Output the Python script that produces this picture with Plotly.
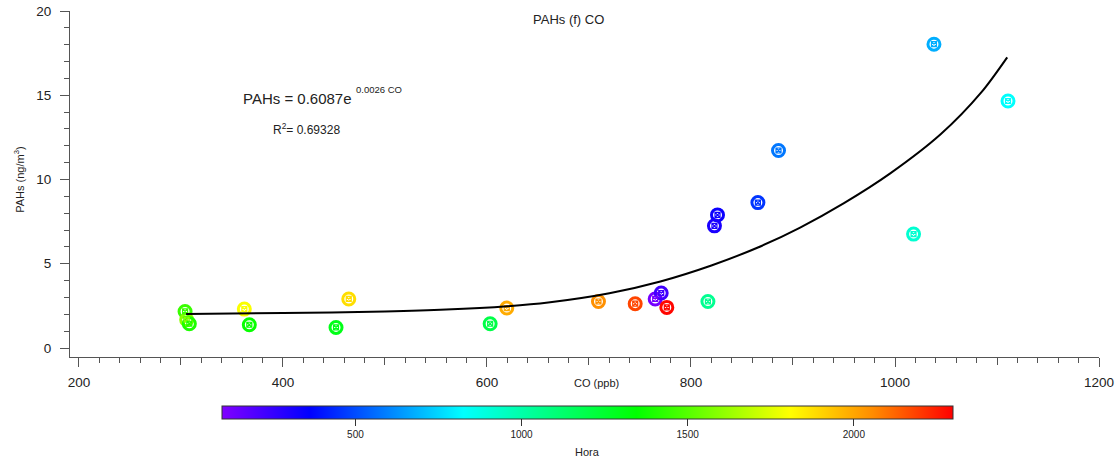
import plotly.graph_objects as go

# CO (ppb), PAHs (ng/m3) and hour of sampling (Hora, hhmm)
co = [304.0, 305.6, 308.2, 362.1, 367.0, 464.5, 452.0, 603.1, 619.4, 709.3, 745.3,
      764.9, 770.8, 776.3, 816.6, 826.0, 823.0, 865.6, 1018.2, 885.8, 1038.2, 1110.8]
pahs = [2.17, 1.68, 1.44, 2.31, 1.38, 2.91, 1.22, 1.44, 2.37, 2.76, 2.63,
        2.91, 3.26, 2.41, 2.76, 7.90, 7.25, 8.63, 6.76, 11.72, 18.03, 14.66]
hora = [1450, 1600, 1400, 1800, 1360, 1880, 1300, 1200, 1990, 2050, 2180,
        120, 230, 2290, 1050, 340, 310, 460, 920, 580, 680, 830]

# exponential fit curve
fit_co = [305, 400, 500, 560, 620, 660, 720, 770, 820, 865, 907, 950,
          995, 1045, 1085, 1110]
fit_pahs = [2.02, 2.07, 2.17, 2.28, 2.48, 2.70, 3.25, 3.95, 4.90, 5.95, 7.15, 8.60,
            10.35, 12.70, 15.20, 17.25]

hora_min, hora_max = 100, 2300
cb_ticks = [500, 1000, 1500, 2000]

FONT = "Liberation Sans, Arial, sans-serif"
AXC = "#555555"

rainbow = [[0.0, "#8000ff"], [0.12, "#0000ff"], [0.33, "#00ffff"],
           [0.567, "#00ff00"], [0.777, "#ffff00"], [0.89, "#ff8c00"], [1.0, "#ff0000"]]

fig = go.Figure()

# ring of each marker, coloured by hour
fig.add_trace(go.Scatter(
    x=co, y=pahs, mode="markers", showlegend=False,
    marker=dict(symbol="circle-open", size=12, color=hora, colorscale=rainbow,
                cmin=hora_min, cmax=hora_max, line=dict(width=3),
                showscale=True,
                colorbar=dict(orientation="h", x=0.5034, xanchor="center",
                              y=-0.1406, yanchor="top", xpad=0, ypad=0,
                              len=731, lenmode="pixels", thickness=13,
                              outlinecolor="#333333", outlinewidth=1,
                              tickvals=cb_ticks, ticks="outside", ticklen=7,
                              tickcolor="#333333",
                              tickfont=dict(family=FONT, size=10, color="#222222"))),
))
# small crossed square inside the ring
fig.add_trace(go.Scatter(
    x=co, y=pahs, mode="markers", showlegend=False,
    marker=dict(symbol="square-x-open", size=5, color=hora, colorscale=rainbow,
                cmin=hora_min, cmax=hora_max, line=dict(width=1.2)),
))
fig.add_trace(go.Scatter(
    x=fit_co, y=fit_pahs, mode="lines", showlegend=False,
    line=dict(color="black", width=2, shape="spline", smoothing=0.8),
))

xr = [191.2, 1200]
yr = [-0.534, 20]

fig.update_layout(
    width=1117, height=458,
    margin=dict(l=70, r=18.3, t=11, b=100.7, autoexpand=False),
    plot_bgcolor="white", paper_bgcolor="white",
    font=dict(family=FONT, color="#222222"),
    xaxis=dict(range=xr, showgrid=False, zeroline=False, showline=True,
               linecolor=AXC, linewidth=1, ticks="outside", ticklen=9,
               tickcolor=AXC, tick0=0, dtick=200, ticklabelstandoff=4,
               tickfont=dict(size=13.5), automargin=False,
               minor=dict(dtick=20, ticks="outside", ticklen=5, tickcolor=AXC)),
    xaxis2=dict(range=xr, overlaying="x", anchor="y", side="bottom",
                showgrid=False, zeroline=False, showline=False, automargin=False,
                ticks="outside", ticklen=7, tickcolor=AXC, tick0=0, dtick=100,
                showticklabels=False),
    yaxis=dict(range=yr, showgrid=False, zeroline=False, showline=True,
               linecolor=AXC, linewidth=1, ticks="outside", ticklen=9,
               tickcolor=AXC, tick0=0, dtick=5, ticklabelstandoff=6,
               tickfont=dict(size=13.5), automargin=False,
               minor=dict(dtick=1, ticks="outside", ticklen=5, tickcolor=AXC)),
)
# dummy trace so xaxis2 is drawn
fig.add_trace(go.Scatter(x=[None], y=[None], xaxis="x2", showlegend=False))

ann = [
    dict(text="PAHs (f) CO", x=679.6, y=19.47, xref="x", yref="y", size=13),
    dict(text="PAHs = 0.6087e", x=358.9, y=14.78, xref="x", yref="y", size=15, xanchor="left"),
    dict(text="0.0026 CO", x=469.7, y=15.37, xref="x", yref="y", size=9.5, xanchor="left"),
    dict(text="R<sup>2</sup>= 0.69328", x=388.3, y=13.0, xref="x", yref="y", size=12, xanchor="left"),
    dict(text="CO (ppb)", x=707.7, y=-0.0751, xref="x", yref="paper", size=11),
    dict(text="Hora", x=0.503, y=-0.2738, xref="paper", yref="paper", size=11),
]
for a in ann:
    fig.add_annotation(text=a["text"], x=a["x"], y=a["y"], xref=a["xref"], yref=a["yref"],
                       xanchor=a.get("xanchor", "center"), yanchor="middle",
                       showarrow=False, font=dict(family=FONT, size=a["size"], color="#222222"))

fig.add_annotation(text="PAHs (ng/m<sup>3</sup>)", x=-0.0496, y=0.512, xref="paper", yref="paper",
                   textangle=-90, showarrow=False, xanchor="center", yanchor="middle",
                   font=dict(family=FONT, size=11, color="#222222"))

# page has a default 8px body margin; drop it so the chart fills the window
fig.write_html("out.html", config={"displayModeBar": False},
               post_script="document.body.style.margin='0';document.body.style.overflow='hidden';")
